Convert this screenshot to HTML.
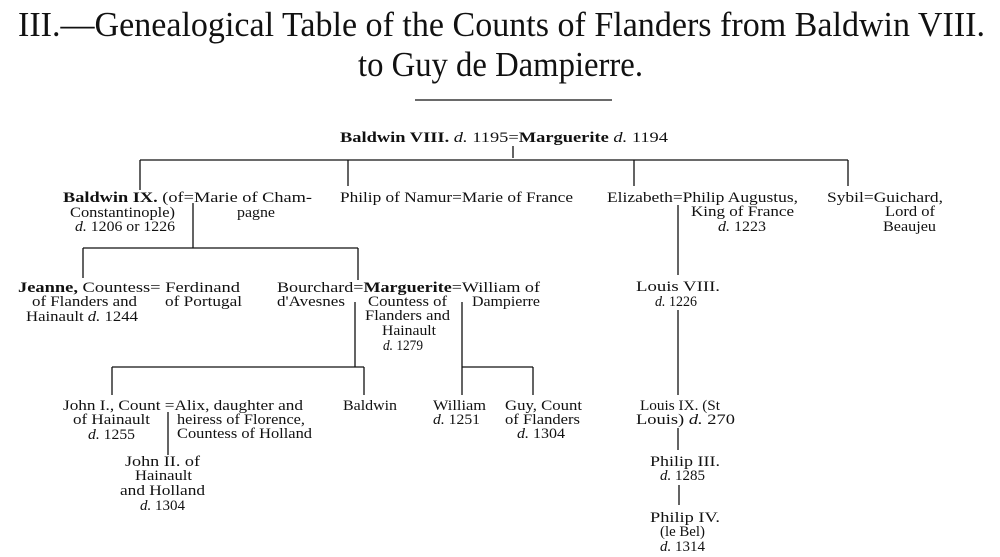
<!DOCTYPE html>
<html><head><meta charset="utf-8"><style>
html,body{margin:0;padding:0;background:#fff;}
svg{display:block}
text{font-family:"Liberation Serif",serif;font-size:15px;fill:#111;}
.b{font-weight:bold;font-size:15px}
.t{font-size:35px;}
</style></head><body>
<svg width="1000" height="557" viewBox="0 0 1000 557" xmlns="http://www.w3.org/2000/svg">
<g stroke="#111" stroke-width="1.3" fill="none">
<line x1="415" y1="100" x2="612" y2="100"/>
<line x1="513" y1="146" x2="513" y2="158"/>
<line x1="140" y1="160" x2="848" y2="160"/>
<line x1="140" y1="160" x2="140" y2="190"/>
<line x1="348" y1="160" x2="348" y2="186"/>
<line x1="634" y1="160" x2="634" y2="186"/>
<line x1="848" y1="160" x2="848" y2="186"/>
<line x1="193" y1="203" x2="193" y2="248"/>
<line x1="83" y1="248" x2="358" y2="248"/>
<line x1="83" y1="248" x2="83" y2="278"/>
<line x1="358" y1="248" x2="358" y2="280"/>
<line x1="678" y1="205" x2="678" y2="275"/>
<line x1="355" y1="302" x2="355" y2="367"/>
<line x1="462" y1="302" x2="462" y2="367"/>
<line x1="112" y1="367" x2="364" y2="367"/>
<line x1="112" y1="367" x2="112" y2="395"/>
<line x1="364" y1="367" x2="364" y2="395"/>
<line x1="462" y1="367" x2="533" y2="367"/>
<line x1="462" y1="367" x2="462" y2="395"/>
<line x1="533" y1="367" x2="533" y2="395"/>
<line x1="168" y1="412" x2="168" y2="455"/>
<line x1="678" y1="310" x2="678" y2="395"/>
<line x1="678" y1="428" x2="678" y2="450"/>
<line x1="679" y1="485" x2="679" y2="505"/>
</g>
<text class="t" x="18" y="36" textLength="967" lengthAdjust="spacingAndGlyphs">III.—Genealogical Table of the Counts of Flanders from Baldwin VIII.</text>
<text class="t" x="358" y="76" textLength="285" lengthAdjust="spacingAndGlyphs">to Guy de Dampierre.</text>

<text x="340" y="142" textLength="328" lengthAdjust="spacingAndGlyphs"><tspan class="b">Baldwin VIII.</tspan> <tspan font-style="italic">d.</tspan> 1195=<tspan class="b">Marguerite</tspan> <tspan font-style="italic">d.</tspan> 1194</text>

<text x="63" y="202" textLength="249" lengthAdjust="spacingAndGlyphs"><tspan class="b">Baldwin IX.</tspan> (of=Marie of Cham-</text>
<text x="70" y="217" textLength="105" lengthAdjust="spacingAndGlyphs">Constantinople)</text>
<text x="237" y="217" textLength="38" lengthAdjust="spacingAndGlyphs">pagne</text>
<text x="75" y="231" textLength="100" lengthAdjust="spacingAndGlyphs"><tspan font-style="italic">d.</tspan> 1206 or 1226</text>

<text x="340" y="202" textLength="233" lengthAdjust="spacingAndGlyphs">Philip of Namur=Marie of France</text>
<text x="607" y="202" textLength="191" lengthAdjust="spacingAndGlyphs">Elizabeth=Philip Augustus,</text>
<text x="691" y="216" textLength="103" lengthAdjust="spacingAndGlyphs">King of France</text>
<text x="718" y="231" textLength="48" lengthAdjust="spacingAndGlyphs"><tspan font-style="italic">d.</tspan> 1223</text>
<text x="827" y="202" textLength="116" lengthAdjust="spacingAndGlyphs">Sybil=Guichard,</text>
<text x="885" y="216" textLength="50" lengthAdjust="spacingAndGlyphs">Lord of</text>
<text x="883" y="231" textLength="53" lengthAdjust="spacingAndGlyphs">Beaujeu</text>

<text x="18" y="292" textLength="222" lengthAdjust="spacingAndGlyphs"><tspan class="b">Jeanne,</tspan> Countess=  Ferdinand</text>
<text x="32" y="306" textLength="105" lengthAdjust="spacingAndGlyphs">of Flanders and</text>
<text x="165" y="306" textLength="77" lengthAdjust="spacingAndGlyphs">of Portugal</text>
<text x="26" y="321" textLength="112" lengthAdjust="spacingAndGlyphs">Hainault <tspan font-style="italic">d.</tspan> 1244</text>

<text x="277" y="292" textLength="263" lengthAdjust="spacingAndGlyphs">Bourchard=<tspan class="b">Marguerite</tspan>=William of</text>
<text x="277" y="306" textLength="68" lengthAdjust="spacingAndGlyphs">d'Avesnes</text>
<text x="368" y="306" textLength="79" lengthAdjust="spacingAndGlyphs">Countess of</text>
<text x="472" y="306" textLength="68" lengthAdjust="spacingAndGlyphs">Dampierre</text>
<text x="365" y="320" textLength="85" lengthAdjust="spacingAndGlyphs">Flanders and</text>
<text x="382" y="335" textLength="54" lengthAdjust="spacingAndGlyphs">Hainault</text>
<text x="383" y="350" textLength="40" lengthAdjust="spacingAndGlyphs"><tspan font-style="italic">d.</tspan> 1279</text>

<text x="636" y="291" textLength="84" lengthAdjust="spacingAndGlyphs">Louis VIII.</text>
<text x="655" y="306" textLength="42" lengthAdjust="spacingAndGlyphs"><tspan font-style="italic">d.</tspan> 1226</text>

<text x="63" y="410" textLength="240" lengthAdjust="spacingAndGlyphs">John I., Count =Alix, daughter and</text>
<text x="73" y="424" textLength="77" lengthAdjust="spacingAndGlyphs">of Hainault</text>
<text x="177" y="424" textLength="128" lengthAdjust="spacingAndGlyphs">heiress of Florence,</text>
<text x="88" y="439" textLength="47" lengthAdjust="spacingAndGlyphs"><tspan font-style="italic">d.</tspan> 1255</text>
<text x="177" y="438" textLength="135" lengthAdjust="spacingAndGlyphs">Countess of Holland</text>
<text x="125" y="466" textLength="75" lengthAdjust="spacingAndGlyphs">John II. of</text>
<text x="135" y="480" textLength="57" lengthAdjust="spacingAndGlyphs">Hainault</text>
<text x="120" y="495" textLength="85" lengthAdjust="spacingAndGlyphs">and Holland</text>
<text x="140" y="510" textLength="45" lengthAdjust="spacingAndGlyphs"><tspan font-style="italic">d.</tspan> 1304</text>

<text x="343" y="410" textLength="54" lengthAdjust="spacingAndGlyphs">Baldwin</text>
<text x="433" y="410" textLength="53" lengthAdjust="spacingAndGlyphs">William</text>
<text x="433" y="424" textLength="47" lengthAdjust="spacingAndGlyphs"><tspan font-style="italic">d.</tspan> 1251</text>
<text x="505" y="410" textLength="77" lengthAdjust="spacingAndGlyphs">Guy, Count</text>
<text x="505" y="424" textLength="75" lengthAdjust="spacingAndGlyphs">of Flanders</text>
<text x="517" y="438" textLength="48" lengthAdjust="spacingAndGlyphs"><tspan font-style="italic">d.</tspan> 1304</text>

<text x="640" y="410" textLength="80" lengthAdjust="spacingAndGlyphs">Louis IX. (St</text>
<text x="636" y="424" textLength="99" lengthAdjust="spacingAndGlyphs">Louis) <tspan font-style="italic">d.</tspan>  270</text>
<text x="650" y="466" textLength="70" lengthAdjust="spacingAndGlyphs">Philip III.</text>
<text x="660" y="480" textLength="45" lengthAdjust="spacingAndGlyphs"><tspan font-style="italic">d.</tspan> 1285</text>
<text x="650" y="522" textLength="70" lengthAdjust="spacingAndGlyphs">Philip IV.</text>
<text x="660" y="536" textLength="45" lengthAdjust="spacingAndGlyphs">(le Bel)</text>
<text x="660" y="551" textLength="45" lengthAdjust="spacingAndGlyphs"><tspan font-style="italic">d.</tspan> 1314</text>
</svg>
</body></html>
